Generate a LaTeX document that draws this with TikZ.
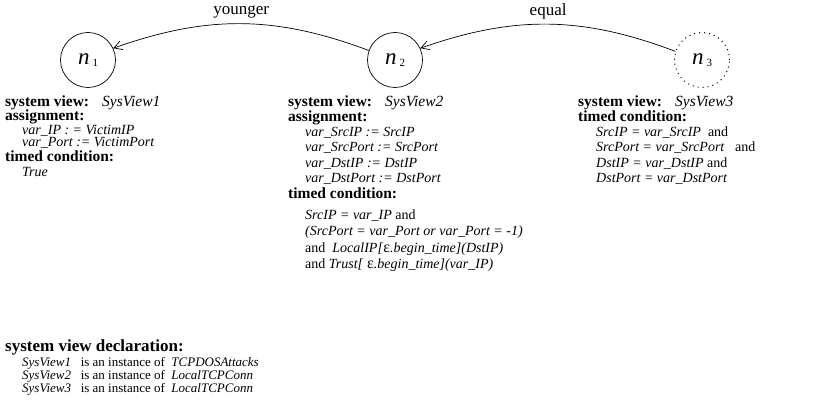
\documentclass[tikz,border=0pt]{standalone}
\usepackage{fontspec}
\setmainfont{Liberation Serif}
\usetikzlibrary{arrows.meta}
\begin{document}
\begin{tikzpicture}[x=1pt,y=-1pt,
  state/.style={circle,draw,line width=0.7pt,minimum size=55pt,inner sep=0pt},
  ghost/.style={state,line width=1pt,dash pattern=on 1pt off 4pt},
  txt/.style={anchor=base west,inner sep=0pt,font=\fontsize{14}{15}\selectfont},
  dtxt/.style={anchor=base west,inner sep=0pt,font=\fontsize{13}{14}\selectfont},
  lab/.style={inner sep=0pt,font=\fontsize{17}{18}\selectfont},
  edge/.style={line width=0.7pt,-{Straight Barb[length=8pt,width=9pt]}}]
\useasboundingbox (0,0) rectangle (827,406);
\newcommand{\nlab}[1]{{\fontsize{23}{23}\selectfont\textit{n}}\hspace{3pt}{\fontsize{11}{11}\selectfont\raisebox{-2pt}{#1}}}
\newcommand{\hd}[1]{{\fontsize{15.5}{16}\selectfont\textbf{#1}}}
\newcommand{\sv}[1]{\hd{system view:}\hspace{13pt}{\fontsize{15.5}{16}\selectfont\textit{#1}}}
\node[state] (n1) at (88,60) {\nlab{1}};
\node[state] (n2) at (395,60) {\nlab{2}};
\node[ghost] (n3) at (702,60) {\nlab{3}};
\draw[edge] (n2.160) to[bend right=20] node[lab,above=5pt,pos=0.5] (ly) {younger} (n1.25);
\draw[edge] (n3.162) to[bend right=20] node[lab,above=5pt,pos=0.5] (le) {equal} (n2.25);
% column 1
\node[txt] (a1) at (5,107) {\sv{SysView1}};
\node[txt] (a2) at (5,121) {\hd{assignment:}};
\node[txt] (a3) at (22,135) {\textit{var\_IP : = VictimIP}};
\node[txt] (a4) at (22,147) {\textit{var\_Port := VictimPort}};
\node[txt] (a5) at (5,162) {\hd{timed condition:}};
\node[txt] (a6) at (22,177) {\textit{True}};
% column 2
\node[txt] (b1) at (288,107) {\sv{SysView2}};
\node[txt] (b2) at (288,122) {\hd{assignment:}};
\node[txt] (b3) at (305,137) {\textit{var\_SrcIP := SrcIP}};
\node[txt] (b4) at (305,152) {\textit{var\_SrcPort := SrcPort}};
\node[txt] (b5) at (305,168) {\textit{var\_DstIP := DstIP}};
\node[txt] (b6) at (305,183) {\textit{var\_DstPort := DstPort}};
\node[txt] (b7) at (288,199) {\hd{timed condition:}};
\node[txt] (b8) at (305,219) {\textit{SrcIP = var\_IP} and};
\node[txt] (b9) at (305,235) {\textit{(SrcPort = var\_Port or var\_Port = -1)}};
\node[txt] (b10) at (305,252) {and\ \ \textit{LocalIP[}{\fontsize{16}{16}\selectfont ε}\textit{.begin\_time](DstIP)}};
\node[txt] (b11) at (305,268) {and \textit{Trust[ }{\fontsize{16}{16}\selectfont ε}\textit{.begin\_time](var\_IP)}};
% column 3
\node[txt] (c1) at (578,107) {\sv{SysView3}};
\node[txt] (c2) at (578,122) {\hd{timed condition:}};
\node[txt] (c3) at (596,137) {\textit{SrcIP = var\_SrcIP}\ \ and};
\node[txt] (c4) at (596,152) {\textit{SrcPort = var\_SrcPort}\ \ \ and};
\node[txt] (c5) at (596,168) {\textit{DstIP = var\_DstIP} and};
\node[txt] (c6) at (596,183) {\textit{DstPort = var\_DstPort}};
% declarations
\node[txt] (d0) at (5,351) {{\fontsize{17}{17}\selectfont\textbf{system view declaration:}}};
\node[dtxt] (d1) at (22,366) {\textit{SysView1}\ \ \ is an instance of\ \ \textit{TCPDOSAttacks}};
\node[dtxt] (d2) at (22,379) {\textit{SysView2}\ \ \ is an instance of\ \ \textit{LocalTCPConn}};
\node[dtxt] (d3) at (22,392) {\textit{SysView3}\ \ \ is an instance of\ \ \textit{LocalTCPConn}};
\end{tikzpicture}
\end{document}
